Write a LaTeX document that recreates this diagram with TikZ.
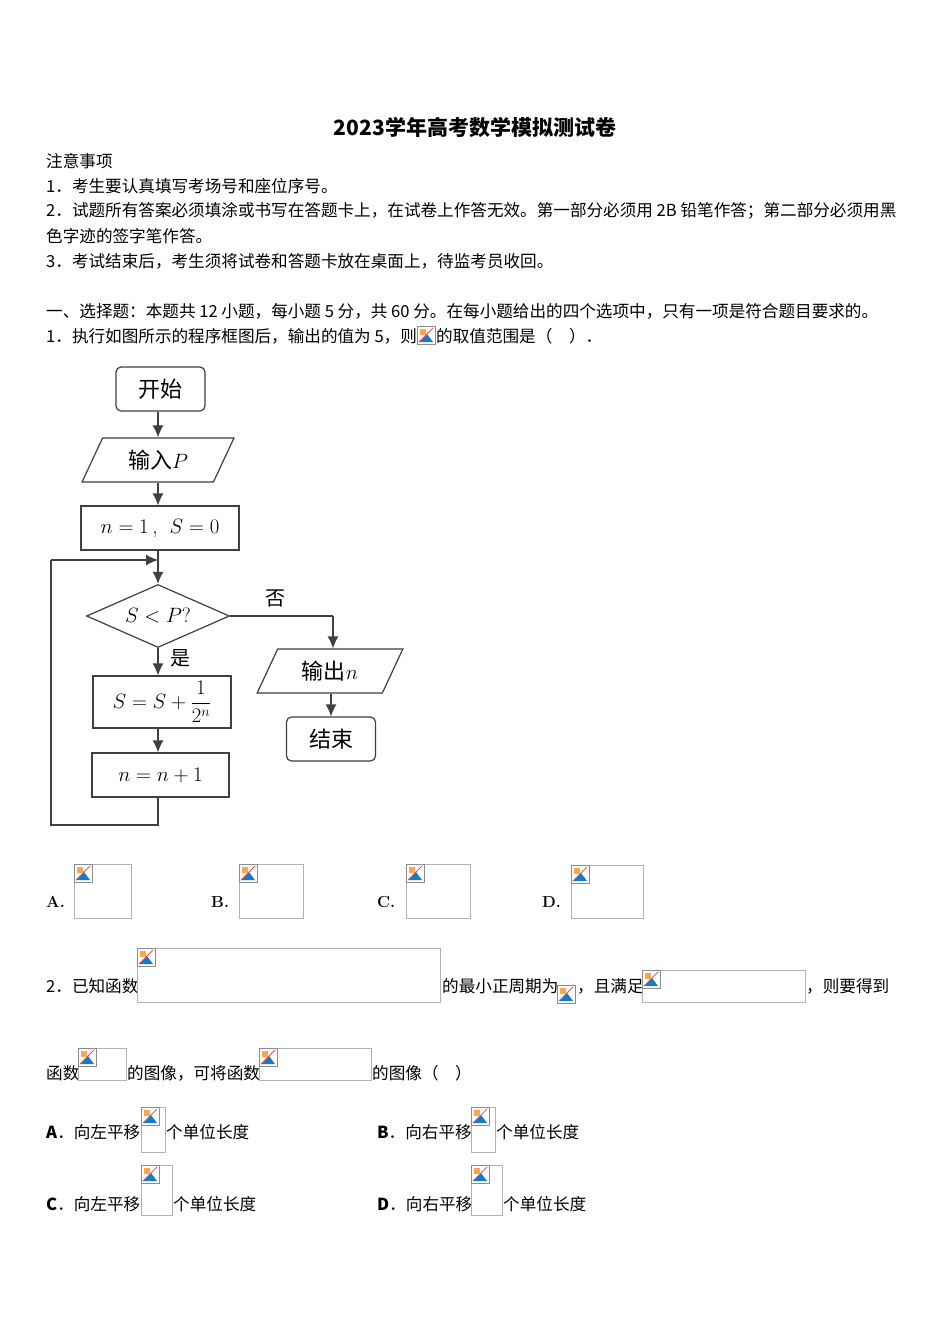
\documentclass[tikz,border=0pt]{standalone}
\usepackage{fontspec}
\newfontfamily\cjk{Noto Sans CJK SC}
\usetikzlibrary{shapes.geometric,arrows.meta}
\tikzset{
  txt/.style={anchor=west,inner sep=0pt,font=\cjk\fontsize{16.6}{18}\selectfont},
  imgbox/.style={draw=black!30,line width=0.6pt},
  fc/.style={draw=black!75,line width=1.2pt,font=\cjk\fontsize{22}{24}\selectfont},
  rbox/.style={fc,rounded corners=5pt,minimum width=89pt,minimum height=44pt},
  sbox/.style={fc,minimum height=44pt},
  para/.style={fc,trapezium,trapezium left angle=65,trapezium right angle=115,minimum height=44pt,inner xsep=4pt},
  arr/.style={draw=black!75,line width=1.2pt,-{Latex[length=12pt,width=11pt]}},
  ln/.style={draw=black!75,line width=1.2pt}
}
\newcommand{\brokenimg}[2]{%
  \fill[white] (#1,#2) rectangle ++(18,18);
  \draw[black!45,line width=0.5pt] (#1,#2) rectangle ++(18,18);
  \fill[orange!70] (#1+3,#2+3) rectangle ++(6,6);
  \fill[cyan!60!blue] (#1+2,#2+16) -- (#1+10,#2+8) -- (#1+16,#2+16) -- cycle;
  \draw[red!70,line width=0.8pt] (#1+2,#2+16) -- (#1+16,#2+2);}
\newcommand{\imgph}[4]{\draw[imgbox] (#1,#2) rectangle (#3,#4); \brokenimg{#1}{#2}}
\begin{document}
\begin{tikzpicture}[x=1pt,y=-1pt]
\useasboundingbox[fill=white] (0,0) rectangle (950,1344);
\node[anchor=center,font=\cjk\bfseries\fontsize{21}{23}\selectfont] (title) at (475,127) {2023学年高考数学模拟测试卷};
\node[txt] (n0) at (46,161) {注意事项};
\node[txt] (n1) at (46,186) {1．考生要认真填写考场号和座位序号。};
\node[txt] (n2) at (46,211) {2．试题所有答案必须填涂或书写在答题卡上，在试卷上作答无效。第一部分必须用 2B 铅笔作答；第二部分必须用黑};
\node[txt] (n2b) at (46,236) {色字迹的签字笔作答。};
\node[txt] (n3) at (46,261) {3．考试结束后，考生须将试卷和答题卡放在桌面上，待监考员收回。};
\node[txt] (s1) at (46,311) {一、选择题：本题共 12 小题，每小题 5 分，共 60 分。在每小题给出的四个选项中，只有一项是符合题目要求的。};
\node[txt] (q1a) at (46,336) {1．执行如图所示的程序框图后，输出的值为 5，则};
\brokenimg{417}{326}
\node[txt] (q1b) at (436,336) {的取值范围是（　）．};

% flowchart
\node[rbox] (start) at (160.5,389) {开始};
\node[para,minimum width=130pt] (in) at (158,460) {输入$P$};
\node[sbox,minimum width=158pt,font=\fontsize{21}{24}\selectfont] (init) at (160,528) {$n=1$\,,\; $S=0$};
\node[fc,diamond,minimum width=143pt,minimum height=63pt,inner sep=0pt,aspect=2.27,font=\fontsize{21}{24}\selectfont] (dec) at (158,616) {$S<P?$};
\node[sbox,minimum width=138pt,minimum height=52pt,font=\fontsize{21}{24}\selectfont] (upd) at (162,702) {$S=S+\displaystyle\frac{1}{2^n}$};
\node[sbox,minimum width=137pt,font=\fontsize{21}{24}\selectfont] (inc) at (160.5,775) {$n=n+1$};
\node[para,minimum width=137pt] (out) at (330,671) {输出$n$};
\node[rbox] (end) at (331,739) {结束};
\coordinate (c1) at (158,825);
\coordinate (c2) at (51,825);
\coordinate (c3) at (51,560);
\coordinate (c4) at (158,560);
\coordinate (c5) at (333,616);
\draw[arr] (start.south -| in.north) -- (in.north);
\draw[arr] (in.south -| dec.north) -- (init.north -| dec.north);
\draw[arr] (init.south -| dec.north) -- (dec.north);
\draw[arr] (dec.south) -- (upd.north -| dec.south);
\draw[arr] (upd.south -| dec.south) -- (inc.north -| dec.south);
\draw[ln] (inc.south -| c1) -- (c1) -- (c2) -- (c3);
\draw[arr] (c3) -- (c4);
\draw[ln] (dec.east) -- (c5);
\draw[arr] (c5) -- (out.north -| c5);
\draw[arr] (out.south -| end.north) -- (end.north);
\node[font=\cjk\fontsize{20}{22}\selectfont] (no) at (275,598) {否};
\node[font=\cjk\fontsize{20}{22}\selectfont] (yes) at (180,658) {是};

% options Q1
\node[txt,font=\bfseries\fontsize{16}{18}\selectfont] (A) at (46,902) {A.};
\imgph{74}{864}{131}{918}
\node[txt,font=\bfseries\fontsize{16}{18}\selectfont] (B) at (211,902) {B.};
\imgph{239}{864}{303}{918}
\node[txt,font=\bfseries\fontsize{16}{18}\selectfont] (C) at (377,902) {C.};
\imgph{406}{864}{470}{918}
\node[txt,font=\bfseries\fontsize{16}{18}\selectfont] (D) at (542,902) {D.};
\imgph{571}{865}{643}{918}

% Q2
\node[txt] (q2a) at (46,986) {2．已知函数};
\imgph{137}{948}{440}{1002}
\node[txt] (q2b) at (442,986) {的最小正周期为};
\brokenimg{557}{985}
\node[txt] (q2c) at (577,986) {，且满足};
\imgph{642}{970}{805}{1002}
\node[txt] (q2d) at (806,986) {，则要得到};
\node[txt] (q2e) at (46,1073) {函数};
\imgph{78}{1048}{126}{1080}
\node[txt] (q2f) at (127,1073) {的图像，可将函数};
\imgph{259}{1048}{371}{1080}
\node[txt] (q2g) at (372,1073) {的图像（　）};

\node[txt] (oA) at (46,1132) {\textbf{A}．向左平移};
\imgph{141}{1107}{165}{1152}
\node[txt] (oA2) at (166,1132) {个单位长度};
\node[txt] (oB) at (377,1132) {\textbf{B}．向右平移};
\imgph{471}{1107}{495}{1152}
\node[txt] (oB2) at (496,1132) {个单位长度};
\node[txt] (oC) at (46,1204) {\textbf{C}．向左平移};
\imgph{141}{1165}{172}{1215}
\node[txt] (oC2) at (173,1204) {个单位长度};
\node[txt] (oD) at (377,1204) {\textbf{D}．向右平移};
\imgph{471}{1165}{502}{1215}
\node[txt] (oD2) at (503,1204) {个单位长度};
\end{tikzpicture}
\end{document}
